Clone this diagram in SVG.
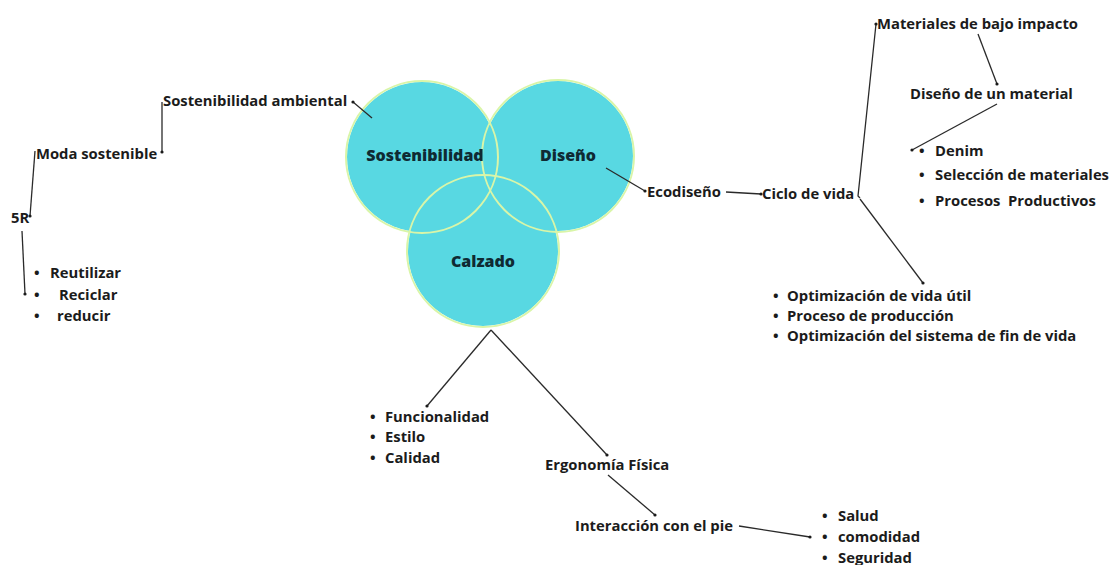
<svg xmlns="http://www.w3.org/2000/svg" width="1114" height="565" viewBox="0 0 1114 565">
<defs>
<style>
.t{font-family:"Open Sans","Liberation Sans",sans-serif;font-weight:700;font-size:14.8px;fill:#1b1b1b}
.c{font-family:"Open Sans","Liberation Sans",sans-serif;font-weight:800;font-size:16px;fill:#0f2a33}
.fill{fill:#58d8e2}
.ring{fill:none;stroke:#d9f5a8;stroke-width:2}
.ln{fill:none;stroke:#2a2a2a;stroke-width:1.3;marker-end:url(#dot)}
</style>
<marker id="dot" viewBox="0 0 4 4" refX="2" refY="2" markerWidth="4" markerHeight="4" markerUnits="userSpaceOnUse">
<circle cx="2" cy="2" r="1.6" fill="#1b1b1b"/>
</marker>
</defs>
<rect width="1114" height="565" fill="#ffffff"/>

<g id="venn">
<circle class="fill" cx="422" cy="157" r="75"/>
<circle class="fill" cx="558" cy="156" r="75"/>
<circle class="fill" cx="483" cy="251" r="75"/>
<circle class="ring" cx="422" cy="157" r="76"/>
<circle class="ring" cx="558" cy="156" r="76"/>
<circle class="ring" cx="483" cy="251" r="76"/>
</g>
<g id="n-sostenibilidad"><text class="c" x="425" y="161" text-anchor="middle">Sostenibilidad</text></g>
<g id="n-diseno"><text class="c" x="568" y="161" text-anchor="middle">Diseño</text></g>
<g id="n-calzado"><text class="c" x="483" y="267" text-anchor="middle">Calzado</text></g>

<g id="connectors">
<line class="ln" x1="372" y1="118" x2="353" y2="102"/>
<line class="ln" x1="162" y1="102" x2="162" y2="152"/>
<line class="ln" x1="35" y1="151" x2="30" y2="216"/>
<line class="ln" x1="22" y1="231" x2="25" y2="294"/>
<line class="ln" x1="606" y1="168" x2="645" y2="191"/>
<line class="ln" x1="726" y1="192" x2="761" y2="194"/>
<polyline class="ln" points="860,198 858,196 876,24"/>
<line class="ln" x1="860" y1="199" x2="923" y2="283"/>
<line class="ln" x1="978" y1="34" x2="997" y2="84"/>
<line class="ln" x1="997" y1="104" x2="912" y2="150"/>
<line class="ln" x1="491" y1="330" x2="427" y2="406"/>
<line class="ln" x1="491" y1="330" x2="607" y2="455"/>
<line class="ln" x1="608" y1="475" x2="655" y2="515"/>
<line class="ln" x1="739" y1="526" x2="810" y2="537"/>
</g>

<g id="n-sost-amb"><text class="t" x="163" y="106">Sostenibilidad ambiental</text></g>
<g id="n-moda"><text class="t" x="36" y="159">Moda sostenible</text></g>
<g id="n-5r"><text class="t" x="11" y="223">5R</text></g>
<g id="n-5r-list">
<text class="t" x="34" y="278">•</text><text class="t" x="50" y="278">Reutilizar</text>
<text class="t" x="34" y="300">•</text><text class="t" x="59" y="300">Reciclar</text>
<text class="t" x="34" y="321">•</text><text class="t" x="57" y="321">reducir</text>
</g>
<g id="n-ecodiseno"><text class="t" x="647" y="197">Ecodiseño</text></g>
<g id="n-ciclo"><text class="t" x="762" y="199">Ciclo de vida</text></g>
<g id="n-materiales"><text class="t" x="877" y="29">Materiales de bajo impacto</text></g>
<g id="n-diseno-material"><text class="t" x="910" y="99">Diseño de un material</text></g>
<g id="n-material-list">
<text class="t" x="919" y="156">•</text><text class="t" x="935" y="156">Denim</text>
<text class="t" x="919" y="180">•</text><text class="t" x="935" y="180">Selección de materiales</text>
<text class="t" x="919" y="206">•</text><text class="t" x="935" y="206" xml:space="preserve">Procesos  Productivos</text>
</g>
<g id="n-ciclo-list">
<text class="t" x="773" y="301">•</text><text class="t" x="787" y="301">Optimización de vida útil</text>
<text class="t" x="773" y="321">•</text><text class="t" x="787" y="321">Proceso de producción</text>
<text class="t" x="773" y="341">•</text><text class="t" x="787" y="341">Optimización del sistema de fin de vida</text>
</g>
<g id="n-calzado-list">
<text class="t" x="370" y="422">•</text><text class="t" x="385" y="422">Funcionalidad</text>
<text class="t" x="370" y="442">•</text><text class="t" x="385" y="442">Estilo</text>
<text class="t" x="370" y="463">•</text><text class="t" x="385" y="463">Calidad</text>
</g>
<g id="n-ergonomia"><text class="t" x="545" y="470">Ergonomía Física</text></g>
<g id="n-interaccion"><text class="t" x="575" y="531">Interacción con el pie</text></g>
<g id="n-pie-list">
<text class="t" x="822" y="521">•</text><text class="t" x="838" y="521">Salud</text>
<text class="t" x="822" y="542">•</text><text class="t" x="838" y="542">comodidad</text>
<text class="t" x="822" y="563">•</text><text class="t" x="838" y="563">Seguridad</text>
</g>
</svg>
